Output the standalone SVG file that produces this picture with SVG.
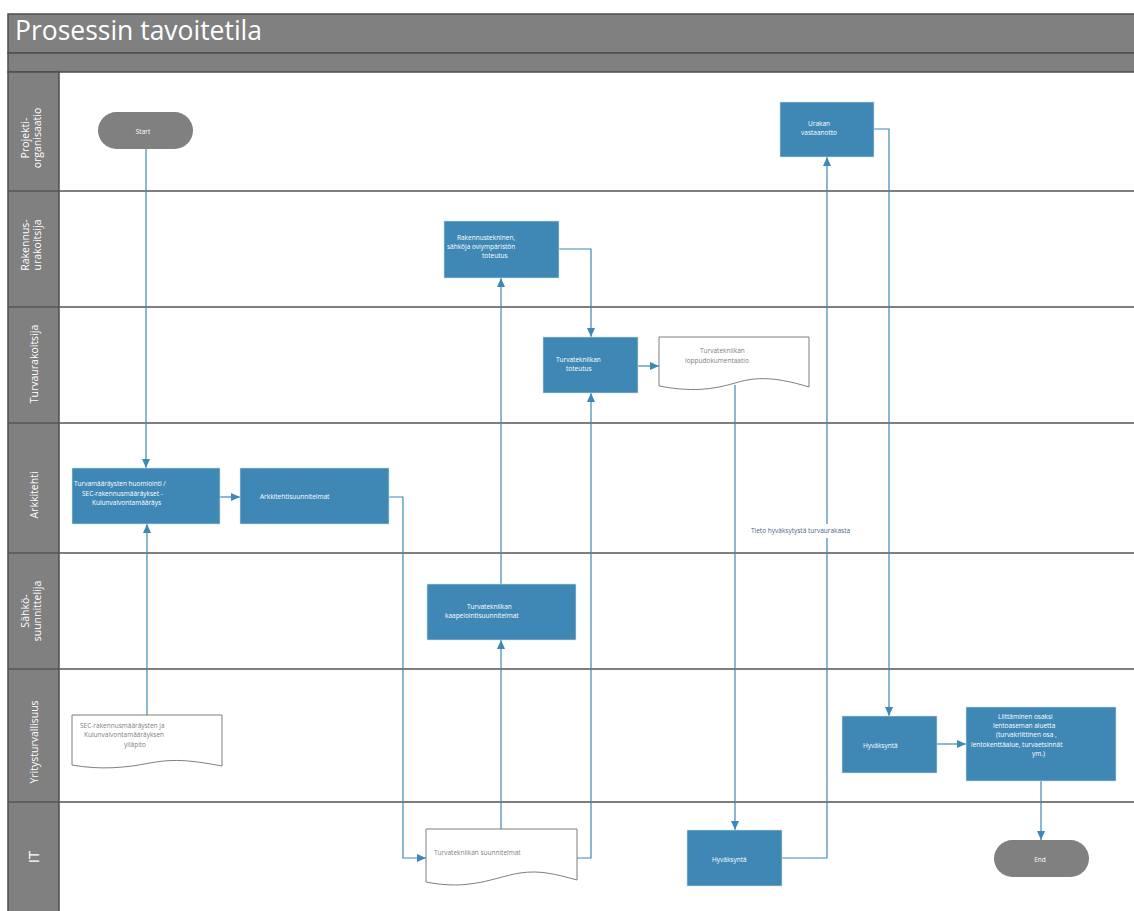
<svg xmlns="http://www.w3.org/2000/svg" width="1134" height="911" viewBox="0 0 1134 911">
  <style>
    .hdr { fill: #808080; stroke: #4d4d4d; stroke-width: 1.5; }
    .lane { stroke: #555; stroke-width: 1.5; fill: none; }
    .lbl { font-family: "Open Sans", "Noto Sans", sans-serif; font-size: 10.5px; fill: #ffffff; text-anchor: middle; }
    .lbl.big { font-size: 15px; }
    .proc { fill: #3F88B5; stroke: #cfe0ec; stroke-width: 0.6; }
    .term { fill: #808080; }
    .doc { fill: #ffffff; stroke: #7f7f7f; stroke-width: 1; }
    .t { font-family: "Open Sans", "Noto Sans", sans-serif; font-size: 6.5px; fill: #ffffff; }
    .td { font-family: "Open Sans", "Noto Sans", sans-serif; font-size: 6.5px; fill: #808080; }
    .conn { fill: none; stroke: #3F88B5; stroke-width: 1.2; marker-end: url(#arr); }
    .note { font-family: "Open Sans", "Noto Sans", sans-serif; font-size: 6.5px; fill: #4a6784; }
  </style>
  <defs>
    <marker id="arr" viewBox="0 0 9 8" refX="9" refY="4" markerWidth="9" markerHeight="8" orient="auto" markerUnits="userSpaceOnUse">
      <path d="M0,0 L9,4 L0,8 z" fill="#3F88B5"/>
    </marker>
  </defs>

  <rect width="1134" height="911" fill="#ffffff"/>

  <!-- header bars -->
  <g id="header">
    <rect class="hdr" x="8" y="14" width="1130" height="39"/>
    <rect class="hdr" x="8" y="53" width="1130" height="19"/>
    <text x="15" y="40" font-family="'Open Sans', 'Noto Sans', sans-serif" font-size="27" fill="#ffffff" textLength="247" lengthAdjust="spacingAndGlyphs">Prosessin tavoitetila</text>
  </g>

  <!-- swimlanes -->
  <g id="lanes">
    <rect class="hdr" x="8" y="72" width="51" height="845"/>
    <path class="lane" d="M8,191 H1134 M8,307 H1134 M8,423 H1134 M8,553 H1134 M8,669 H1134 M8,802 H1134"/>
    <text class="lbl" transform="translate(28.5,138) rotate(-90)">Projekti-</text>
    <text class="lbl" transform="translate(40.5,138) rotate(-90)">organisaatio</text>
    <text class="lbl" transform="translate(28.5,245) rotate(-90)">Rakennus-</text>
    <text class="lbl" transform="translate(40.5,245) rotate(-90)">urakoitsija</text>
    <text class="lbl" transform="translate(37.5,364) rotate(-90)">Turvaurakoitsija</text>
    <text class="lbl" transform="translate(38,495) rotate(-90)">Arkkitehti</text>
    <text class="lbl" transform="translate(28.5,611) rotate(-90)">Sähkö-</text>
    <text class="lbl" transform="translate(40.5,611) rotate(-90)">suunnittelija</text>
    <text class="lbl" transform="translate(37.5,742) rotate(-90)">Yritysturvallisuus</text>
    <text class="lbl big" transform="translate(39,857) rotate(-90)">IT</text>
  </g>

  <!-- connectors -->
  <g id="connectors">
    <path class="conn" d="M146,149 V468"/>
    <path class="conn" d="M147,715 V524"/>
    <path class="conn" d="M220,497 H240"/>
    <path class="conn" d="M389,497 H403 V858 H426"/>
    <path class="conn" d="M501,829 V640"/>
    <path class="conn" d="M501,584 V278"/>
    <path class="conn" d="M559,249 H591 V337"/>
    <path class="conn" d="M577,858 H591 V393"/>
    <path class="conn" d="M638,366 H659"/>
    <path class="conn" d="M735,385 V830"/>
    <path class="conn" d="M781,858 H827 V157"/>
    <path class="conn" d="M874,129 H889 V716"/>
    <path class="conn" d="M937,744 H966"/>
    <path class="conn" d="M1041,781 V840"/>
    <rect x="748" y="524" width="104" height="14" fill="#ffffff"/>
    <text class="note" x="751" y="533">Tieto hyväksytystä turvaurakasta</text>
  </g>

  <!-- nodes -->
  <g id="start">
    <rect class="term" x="98" y="112" width="95" height="37" rx="18.5"/>
    <text class="t" x="143" y="134" text-anchor="middle">Start</text>
  </g>

  <g id="urakan-vastaanotto">
    <rect class="proc" x="780" y="102" width="94" height="55"/>
    <text class="t" x="819" y="126" text-anchor="middle">Urakan</text>
    <text class="t" x="819" y="135" text-anchor="middle">vastaanotto</text>
  </g>

  <g id="rakennustekninen-toteutus">
    <rect class="proc" x="444" y="221" width="115" height="57"/>
    <text class="t" x="457" y="240">Rakennustekninen,</text>
    <text class="t" x="447" y="249">sähköja oviympäristön</text>
    <text class="t" x="482" y="258">toteutus</text>
  </g>

  <g id="turvatekniikan-toteutus">
    <rect class="proc" x="543" y="337" width="95" height="56"/>
    <text class="t" x="556" y="362">Turvatekniikan</text>
    <text class="t" x="566" y="371">toteutus</text>
  </g>

  <g id="loppudokumentaatio">
    <path class="doc" d="M659,337 H809 V387 C770,375 752,378 735,383 C712,390 690,392 659,386 Z"/>
    <text class="td" x="700" y="353">Turvatekniikan</text>
    <text class="td" x="685" y="363">loppudokumentaatio</text>
  </g>

  <g id="turvamaaraysten-huomiointi">
    <rect class="proc" x="72" y="468" width="148" height="56"/>
    <text class="t" x="74" y="486">Turvamääräysten huomiointi  /</text>
    <text class="t" x="82" y="496">SEC-rakennusmääräykset -</text>
    <text class="t" x="92" y="505">Kulunvalvontamääräys</text>
  </g>

  <g id="arkkitehtisuunnitelmat">
    <rect class="proc" x="240" y="468" width="149" height="56"/>
    <text class="t" x="260" y="499">Arkkitehtisuunnitelmat</text>
  </g>

  <g id="kaapelointisuunnitelmat">
    <rect class="proc" x="427" y="584" width="149" height="56"/>
    <text class="t" x="467" y="609">Turvatekniikan</text>
    <text class="t" x="445" y="618">kaapelointisuunnitelmat</text>
  </g>

  <g id="sec-yllapito">
    <path class="doc" d="M72,715 H222 V766 C195,761 175,758 150,763 C125,768 100,770 72,765 Z"/>
    <text class="td" x="80" y="728">SEC-rakennusmääräysten ja</text>
    <text class="td" x="84" y="737">Kulunvalvontamääräyksen</text>
    <text class="td" x="124" y="747">ylläpito</text>
  </g>

  <g id="hyvaksynta-yritysturvallisuus">
    <rect class="proc" x="842" y="716" width="95" height="57"/>
    <text class="t" x="863" y="748">Hyväksyntä</text>
  </g>

  <g id="liittaminen">
    <rect class="proc" x="966" y="707" width="150" height="74"/>
    <text class="t" x="998" y="719">Liittäminen osaksi</text>
    <text class="t" x="993" y="728">lentoaseman aluetta</text>
    <text class="t" x="996" y="737">(turvakriittinen osa ,</text>
    <text class="t" x="971" y="747">lentokenttäalue, turvaetsinnät</text>
    <text class="t" x="1032" y="756">ym.)</text>
  </g>

  <g id="turvatekniikan-suunnitelmat">
    <path class="doc" d="M426,829 H577 V880 C555,874 540,870 520,873 C495,877 470,891 426,882 Z"/>
    <text class="td" x="434" y="855">Turvatekniikan suunnitelmat</text>
  </g>

  <g id="hyvaksynta-it">
    <rect class="proc" x="687" y="830" width="95" height="56"/>
    <text class="t" x="712" y="862">Hyväksyntä</text>
  </g>

  <g id="end">
    <rect class="term" x="994" y="840" width="95" height="37" rx="18.5"/>
    <text class="t" x="1040" y="862" text-anchor="middle">End</text>
  </g>
</svg>
